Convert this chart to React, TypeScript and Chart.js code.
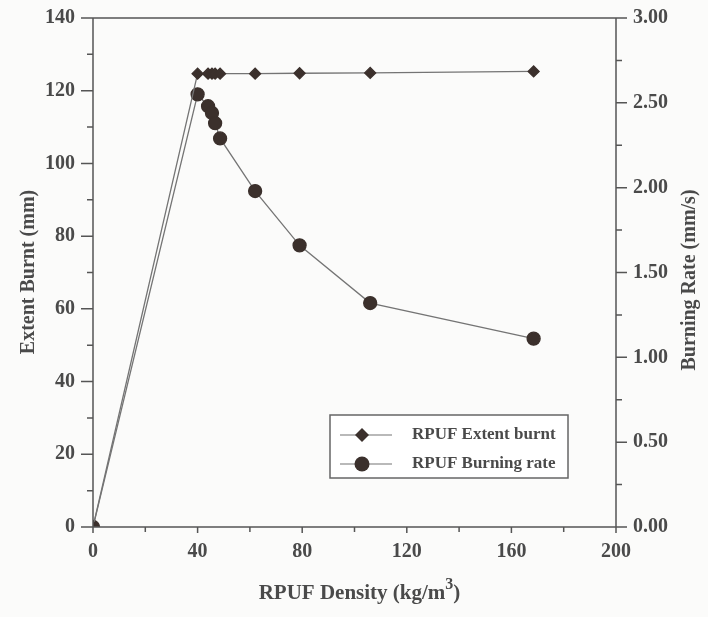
import React, { useEffect, useRef } from "react";
import { Chart, registerables } from "chart.js";

Chart.register(...registerables);

const densityExtent = [0, 40, 44, 45.5, 46.7, 48.6, 62, 79, 106, 168.5];
const extentBurnt = [0, 124.7, 124.7, 124.7, 124.7, 124.7, 124.7, 124.8, 124.9, 125.3];
const densityRate = [0, 40, 44, 45.5, 46.7, 48.6, 62, 79, 106, 168.5];
const burningRate = [0, 2.55, 2.48, 2.44, 2.38, 2.29, 1.98, 1.66, 1.32, 1.11];

const xTitle = "RPUF Density (kg/m";
const yTitle = "Extent Burnt (mm)";
const y1Title = "Burning Rate (mm/s)";
const legendLabels = ["RPUF Extent burnt", "RPUF Burning rate"];

const TEXT = "#4a4a4a";
const AXIS = "#555555";
const LINE = "#747474";
const MARK = "#3b302c";
const FONT = "'Liberation Serif', 'Times New Roman', serif";

const decorPlugin = {
  id: "decor",
  afterDraw(chart: any) {
    const ctx = chart.ctx;
    const a = chart.chartArea;
    const x = chart.scales.x;
    const y = chart.scales.y;
    const y1 = chart.scales.y1;
    ctx.save();
    ctx.strokeStyle = AXIS;
    ctx.lineWidth = 1.5;
    // box
    ctx.beginPath();
    ctx.moveTo(a.left, a.top);
    ctx.lineTo(a.right, a.top);
    ctx.moveTo(a.left, a.top);
    ctx.lineTo(a.left, a.bottom);
    ctx.moveTo(a.right, a.top);
    ctx.lineTo(a.right, a.bottom);
    ctx.moveTo(a.left, a.bottom);
    ctx.lineTo(a.right, a.bottom);
    ctx.stroke();
    // ticks
    ctx.beginPath();
    for (let v = 0; v <= 140; v += 10) {
      const py = y.getPixelForValue(v);
      const len = v % 20 === 0 ? 12 : 6;
      ctx.moveTo(a.left - len, py);
      ctx.lineTo(a.left, py);
    }
    for (let i = 0; i <= 12; i++) {
      const v = i * 0.25;
      const py = y1.getPixelForValue(v);
      const len = i % 2 === 0 ? 11 : 6;
      ctx.moveTo(a.right, py);
      ctx.lineTo(a.right + len, py);
    }
    for (let v = 0; v <= 200; v += 20) {
      const px = x.getPixelForValue(v);
      const len = v % 40 === 0 ? 6 : 5;
      ctx.moveTo(px, a.bottom);
      ctx.lineTo(px, a.bottom + len);
    }
    ctx.stroke();

    // titles
    ctx.fillStyle = TEXT;
    ctx.font = `bold 20px ${FONT}`;
    ctx.textAlign = "center";
    ctx.textBaseline = "middle";
    ctx.save();
    ctx.translate(29, 272);
    ctx.rotate(-Math.PI / 2);
    ctx.fillText(yTitle, 0, 0);
    ctx.restore();
    ctx.save();
    ctx.translate(690, 280);
    ctx.rotate(-Math.PI / 2);
    ctx.fillText(y1Title, 0, 0);
    ctx.restore();
    // x title with superscript
    const cx = (a.left + a.right) / 2 + 5;
    ctx.font = `bold 21px ${FONT}`;
    const w1 = ctx.measureText(xTitle).width;
    ctx.font = `bold 16px ${FONT}`;
    const w2 = ctx.measureText("3").width;
    ctx.font = `bold 21px ${FONT}`;
    const w3 = ctx.measureText(")").width;
    let sx = cx - (w1 + w2 + w3) / 2;
    const ty = 594;
    ctx.textAlign = "left";
    ctx.fillText(xTitle, sx, ty);
    sx += w1;
    ctx.font = `bold 16px ${FONT}`;
    ctx.fillText("3", sx, ty - 9);
    sx += w2;
    ctx.font = `bold 21px ${FONT}`;
    ctx.fillText(")", sx, ty);

    // legend
    const lx = 330, ly = 415, lw = 238, lh = 63;
    ctx.fillStyle = "#ffffff";
    ctx.fillRect(lx, ly, lw, lh);
    ctx.strokeStyle = "#666";
    ctx.lineWidth = 1.5;
    ctx.strokeRect(lx, ly, lw, lh);
    const rows = [ly + 20, ly + 49];
    rows.forEach((ry, i) => {
      ctx.strokeStyle = LINE;
      ctx.lineWidth = 1.2;
      ctx.beginPath();
      ctx.moveTo(lx + 10, ry);
      ctx.lineTo(lx + 62, ry);
      ctx.stroke();
      ctx.fillStyle = MARK;
      ctx.beginPath();
      const mx = lx + 32;
      if (i === 0) {
        ctx.moveTo(mx, ry - 7);
        ctx.lineTo(mx + 7, ry);
        ctx.lineTo(mx, ry + 7);
        ctx.lineTo(mx - 7, ry);
        ctx.closePath();
      } else {
        ctx.arc(mx, ry, 7.5, 0, Math.PI * 2);
      }
      ctx.fill();
      ctx.fillStyle = TEXT;
      ctx.font = `bold 17px ${FONT}`;
      ctx.textAlign = "left";
      ctx.textBaseline = "middle";
      ctx.fillText(legendLabels[i], lx + 82, ry);
    });
    ctx.restore();
  },
};

export default function App() {
  const ref = useRef<HTMLCanvasElement>(null);
  useEffect(() => {
    document.body.style.margin = "0";
    const chart = new Chart(ref.current!, {
      type: "scatter",
      data: {
        datasets: [
          {
            label: legendLabels[0],
            data: densityExtent.map((d, i) => ({ x: d, y: extentBurnt[i] })),
            yAxisID: "y",
            showLine: true,
            borderColor: LINE,
            borderWidth: 1.3,
            backgroundColor: MARK,
            pointBackgroundColor: MARK,
            pointBorderColor: MARK,
            pointStyle: "rectRot",
            pointRadius: 5.5,
          },
          {
            label: legendLabels[1],
            data: densityRate.map((d, i) => ({ x: d, y: burningRate[i] })),
            yAxisID: "y1",
            showLine: true,
            borderColor: LINE,
            borderWidth: 1.3,
            backgroundColor: MARK,
            pointBackgroundColor: MARK,
            pointBorderColor: MARK,
            pointStyle: "circle",
            pointRadius: 6.5,
          },
        ],
      },
      options: {
        animation: false,
        responsive: false,
        maintainAspectRatio: false,
        layout: { padding: { top: 18, left: 0, right: 0, bottom: 0 } },
        plugins: { legend: { display: false }, tooltip: { enabled: false } },
        scales: {
          x: {
            type: "linear",
            min: 0,
            max: 200,
            grid: { display: false, drawTicks: false },
            border: { display: false },
            ticks: {
              stepSize: 40,
              padding: 13,
              color: TEXT,
              font: { family: FONT, size: 20, weight: "bold" },
              maxRotation: 0,
            },
            afterFit: (s: any) => {
              s.height = 90;
              s.paddingLeft = 0;
              s.paddingRight = 0;
            },
          },
          y: {
            type: "linear",
            position: "left",
            min: 0,
            max: 140,
            grid: { display: false, drawTicks: false },
            border: { display: false },
            ticks: {
              stepSize: 20,
              padding: 18,
              color: TEXT,
              font: { family: FONT, size: 20, weight: "bold" },
            },
            afterFit: (s: any) => {
              s.width = 93;
              s.paddingTop = 0;
              s.paddingBottom = 0;
            },
          },
          y1: {
            type: "linear",
            position: "right",
            min: 0,
            max: 3,
            grid: { display: false, drawTicks: false },
            border: { display: false },
            ticks: {
              stepSize: 0.5,
              padding: 17,
              color: TEXT,
              font: { family: FONT, size: 20, weight: "bold" },
              callback: (v: any) => Number(v).toFixed(2),
            },
            afterFit: (s: any) => {
              s.width = 92;
              s.paddingTop = 0;
              s.paddingBottom = 0;
            },
          },
        },
      },
      plugins: [decorPlugin],
    });
    return () => chart.destroy();
  }, []);
  return (
    <div style={{ position: "fixed", left: 0, top: 0, width: 708, height: 617, background: "#fbfbfa" }}>
      <canvas ref={ref} width={708} height={617} style={{ width: 708, height: 617, display: "block" }} />
    </div>
  );
}
